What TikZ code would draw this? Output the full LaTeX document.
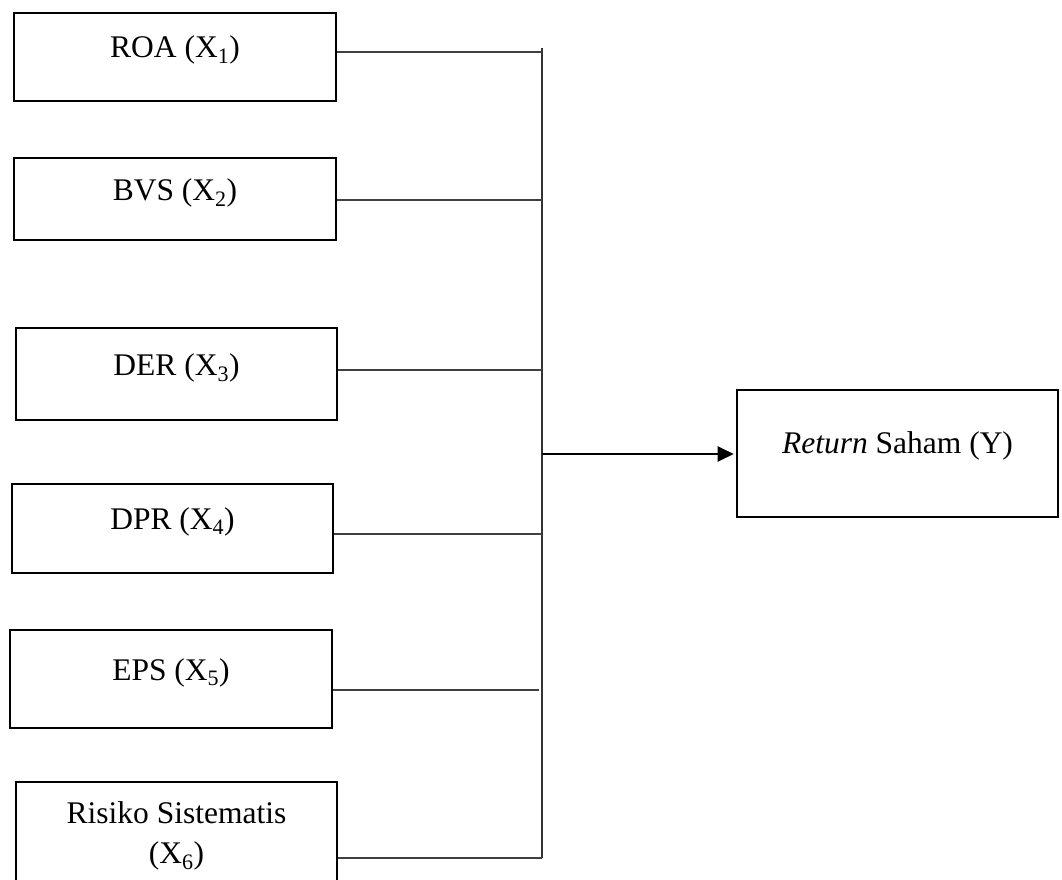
\documentclass[tikz,border=0pt]{standalone}
\usepackage{fontspec}
\setmainfont{Liberation Serif}
\usetikzlibrary{arrows.meta}
\begin{document}
\begin{tikzpicture}[x=1pt,y=-1pt,
  box/.style={draw=black, line width=2.6pt, inner sep=0pt},
  conn/.style={draw=black!75, line width=1.4pt},
  busline/.style={draw=black!80, line width=1.3pt},
  arr/.style={draw=black, line width=2.3pt, -{Triangle[length=16pt,width=15pt]}, shorten >=2pt},
  lbl/.style={anchor=base, inner sep=0pt, font=\fontsize{31.5}{40}\selectfont}]
\clip (0,0) rectangle (1062,880);
% boxes
\node[box, minimum width=322pt, minimum height=88pt] (b1) at (175,57) {};
\node[box, minimum width=322pt, minimum height=82pt] (b2) at (175,199) {};
\node[box, minimum width=321pt, minimum height=92pt] (b3) at (176.5,374) {};
\node[box, minimum width=321pt, minimum height=89pt] (b4) at (172.5,528.5) {};
\node[box, minimum width=322pt, minimum height=98pt] (b5) at (171,679) {};
\node[box, minimum width=321pt, minimum height=113pt] (b6) at (176.5,838.5) {};
\node[box, minimum width=321pt, minimum height=127pt] (by) at (897.5,453.5) {};
% labels
\node[lbl] (t1) at (175,58) {ROA (X\textsubscript{1})};
\node[lbl] (t2) at (175,200) {BVS (X\textsubscript{2})};
\node[lbl] (t3) at (176.5,375) {DER (X\textsubscript{3})};
\node[lbl] (t4) at (172.5,529) {DPR (X\textsubscript{4})};
\node[lbl] (t5) at (171,680) {EPS (X\textsubscript{5})};
\node[lbl] (t6a) at (176.5,823) {Risiko Sistematis};
\node[lbl] (t6b) at (176.5,863) {(X\textsubscript{6})};
\node[lbl] (ty) at (897.5,453) {\textit{Return} Saham (Y)};
% bus coordinates
\coordinate (bustop) at (542,48);
\coordinate (j1) at (542,52);
\coordinate (j2) at (542,200);
\coordinate (j3) at (542,370);
\coordinate (j4) at (542,534);
\coordinate (j5) at (539,690);
\coordinate (j6) at (542,858);
\coordinate (jy) at (542,454);
% connectors
\draw[busline] (bustop) -- (j6);
\draw[conn] (b1.east |- j1) -- (j1);
\draw[conn] (b2.east |- j2) -- (j2);
\draw[conn] (b3.east |- j3) -- (j3);
\draw[conn] (b4.east |- j4) -- (j4);
\draw[conn] (b5.east |- j5) -- (j5);
\draw[conn] (b6.east |- j6) -- (j6);
\draw[arr] (jy) -- (by.west |- jy);
\end{tikzpicture}
\end{document}
